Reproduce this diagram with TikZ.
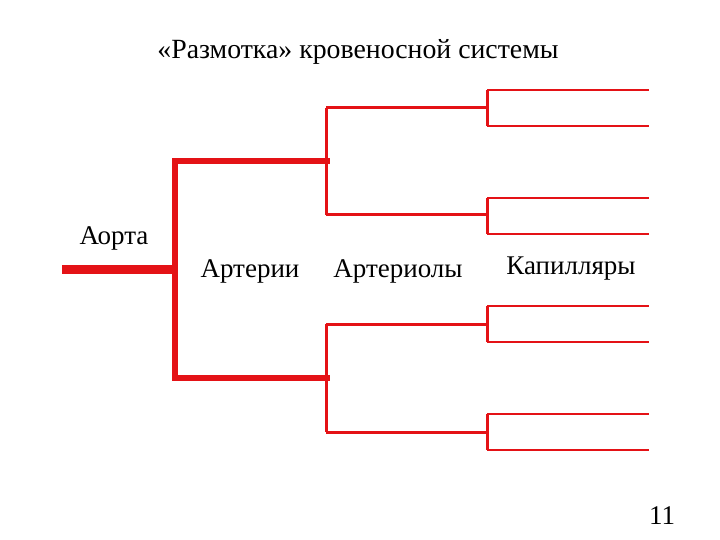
\documentclass[tikz,border=0pt]{standalone}
\usepackage{fontspec}
\setmainfont{Liberation Serif}
\definecolor{vessel}{RGB}{228,18,22}
\begin{document}
\begin{tikzpicture}[x=1pt,y=-1pt,
  aorta/.style={draw=vessel,line width=9pt},
  artery/.style={draw=vessel,line width=6pt},
  arteriole/.style={draw=vessel,line width=3pt},
  capillary/.style={draw=vessel,line width=2.6pt},
  lbl/.style={inner sep=0pt,font=\fontsize{27}{30}\selectfont}]
\useasboundingbox (0,0) rectangle (720,540);
\fill[white] (0,0) rectangle (720,540);
% title
\node[inner sep=0pt,font=\fontsize{27.8}{31}\selectfont] (title) at (358,52) {«Размотка» кровеносной системы};
% labels
\node[lbl] (lA) at (114,238) {Аорта};
\node[lbl] (lB) at (250,271) {Артерии};
\node[lbl] (lC) at (398,271) {Артериолы};
\node[lbl] (lD) at (571,269) {Капилляры};
\node[inner sep=0pt,font=\fontsize{27}{30}\selectfont] (num) at (662,516) {11};
% coordinates
\coordinate (a0) at (62,269);
\coordinate (a1) at (178,269);
\coordinate (t1) at (175,161);
\coordinate (t2) at (175,378);
\coordinate (t1e) at (327,161);
\coordinate (t2e) at (327,378);
% arterioles
\coordinate (r1a) at (326,108);
\coordinate (r1b) at (326,215);
\coordinate (r2a) at (326,324);
\coordinate (r2b) at (326,432);
\foreach \y/\n in {108/1,215/2,324/3,432/4}{
  \coordinate (e\n) at (487,\y);
}
% capillaries
\foreach \ya/\yb/\n in {90/126/1,198/234/2,306/342/3,414/450/4}{
  \coordinate (c\n a) at (487,\ya);
  \coordinate (c\n b) at (487,\yb);
  \coordinate (d\n a) at (649,\ya);
  \coordinate (d\n b) at (649,\yb);
}
% draw
\draw[aorta] (a0) -- (a1);
\draw[artery,line cap=rect] (t1e) -- (t1) -- (t2) -- (t2e);
\draw[arteriole] (r1a) -- (r1b) (r2a) -- (r2b);
\draw[arteriole] (r1a) -- (e1) (r1b) -- (e2) (r2a) -- (e3) (r2b) -- (e4);
\foreach \n in {1,2,3,4}{
  \draw[arteriole] (c\n a) -- (c\n b);
  \draw[capillary] (c\n a) -- (d\n a) (c\n b) -- (d\n b);
}
\end{tikzpicture}
\end{document}
